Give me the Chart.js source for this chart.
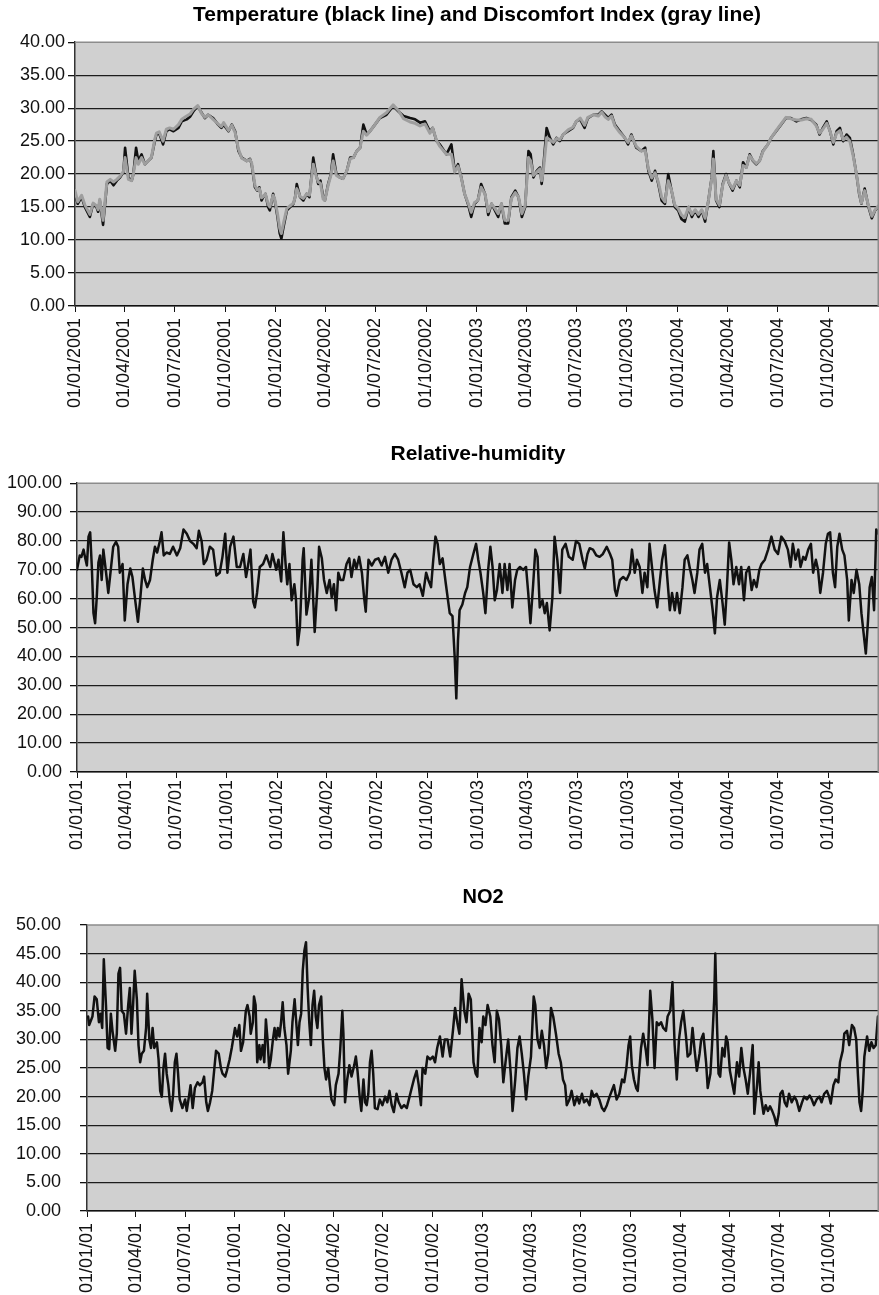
<!DOCTYPE html>
<html>
<head>
<meta charset="utf-8">
<script src="https://cdn.jsdelivr.net/npm/chart.js@4.4.1/dist/chart.umd.min.js"></script>
<style>
  body { margin: 0; background: #fff; }
  canvas { position: absolute; left: 0; }
  #temp-chart { top: 0; }
  #rh-chart { top: 420px; }
  #no2-chart { top: 865px; }
</style>
</head>
<body>
<canvas id="temp-chart" width="879" height="420"></canvas>
<canvas id="rh-chart" width="879" height="445"></canvas>
<canvas id="no2-chart" width="879" height="430"></canvas>
<script>
// x axis: days counted from 01/01/2001
const quarterDays = [0, 90, 181, 273, 365, 455, 546, 638, 730, 820, 911, 1003, 1095, 1186, 1277, 1369];
const labelsLong = ["01/01/2001", "01/04/2001", "01/07/2001", "01/10/2001", "01/01/2002", "01/04/2002", "01/07/2002", "01/10/2002",
  "01/01/2003", "01/04/2003", "01/07/2003", "01/10/2003", "01/01/2004", "01/04/2004", "01/07/2004", "01/10/2004"];
const labelsShort = ["01/01/01", "01/04/01", "01/07/01", "01/10/01", "01/01/02", "01/04/02", "01/07/02", "01/10/02",
  "01/01/03", "01/04/03", "01/07/03", "01/10/03", "01/01/04", "01/04/04", "01/07/04", "01/10/04"];

// temperature + discomfort index
const tempDays = [
  0, 5, 12, 18, 27, 33, 39, 42, 45, 51,
  58, 64, 70, 76, 82, 88, 91, 97, 103, 106,
  111, 115, 121, 127, 133, 139, 145, 148, 153, 160,
  166, 172, 179, 188, 194, 203, 209, 215, 223, 230,
  236, 242, 251, 260, 266, 270, 279, 285, 291, 297,
  303, 312, 318, 321, 327, 331, 335, 339, 342, 346,
  351, 354, 360, 363, 368, 372, 375, 379, 385, 391,
  397, 400, 403, 409, 415, 421, 426, 433, 438, 442,
  446, 451, 454, 460, 465, 469, 475, 481, 487, 494,
  500, 506, 512, 518, 524, 530, 536, 545, 554, 566,
  578, 588, 597, 609, 618, 627, 636, 645, 650, 657,
  663, 675, 684, 690, 696, 702, 708, 714, 720, 726,
  732, 738, 745, 751, 757, 763, 769, 775, 781, 787,
  793, 800, 806, 812, 818, 824, 828, 833, 839, 845,
  848, 851, 857, 863, 869, 875, 881, 887, 896, 905,
  911, 918, 926, 932, 942, 951, 957, 963, 969, 975,
  981, 990, 999, 1005, 1011, 1020, 1029, 1036, 1042, 1048,
  1054, 1060, 1066, 1072, 1078, 1084, 1090, 1096, 1102, 1108,
  1115, 1121, 1127, 1133, 1139, 1145, 1151, 1157, 1160, 1165,
  1171, 1177, 1183, 1189, 1195, 1202, 1208, 1214, 1220, 1226,
  1232, 1238, 1244, 1250, 1259, 1265, 1274, 1283, 1292, 1301,
  1311, 1320, 1329, 1338, 1347, 1353, 1359, 1366, 1372, 1378,
  1384, 1390, 1396, 1402, 1408, 1414, 1420, 1425, 1429, 1435,
  1442, 1448, 1454, 1460];
const temperature = [
  17, 15.5, 16.5, 15, 13.5, 15.5, 15, 14.3, 16, 12.3,
  18.5, 19, 18.3, 19, 19.5, 20.3, 24, 19.5, 19, 20,
  24, 22, 23, 21.5, 22, 22.5, 25, 26, 26.2, 24.5,
  26.5, 26.8, 26.5, 27, 28, 28.3, 28.7, 29.5, 30.3, 29.3,
  28.5, 29, 28.5, 27.5, 27, 27.5, 26.5, 27.5, 26.5, 23.5,
  22.5, 22, 22.3, 21.5, 18, 17.5, 18, 16, 16.5, 17,
  15, 14.5, 17, 16, 13.5, 11, 10.2, 12, 14.5, 15,
  15.5, 16.5, 18.5, 16.5, 16, 17, 16.5, 22.5, 20, 18.5,
  19, 16.5, 16, 18.5, 20, 23, 20, 19.5, 19.3, 20.5,
  22.5, 22.5, 23.5, 24, 27.5, 26, 26.5, 27.5, 28.5, 29,
  30.3, 29.5, 28.8, 28.5, 28.3, 27.8, 28, 26.5, 27, 25,
  24.5, 23, 24.5, 20.5, 21.5, 19.5, 17, 15.5, 13.5, 15.5,
  16, 18.5, 17, 13.8, 15.5, 14.5, 13.5, 15.5, 12.5, 12.5,
  16.5, 17.5, 16.5, 13.5, 15, 23.5, 23, 19.5, 20.5, 21,
  18.5, 21, 27, 25.5, 24.5, 25.5, 25, 26, 26.5, 27,
  28, 28.3, 27, 28.5, 29, 29, 29.5, 29, 28.5, 29,
  27.5, 26.5, 25.5, 24.5, 26, 24, 23.5, 24, 20.5, 19,
  20.5, 18.5, 16, 15.5, 20, 17.5, 15, 14.5, 13.2, 12.8,
  15, 13.5, 14.5, 13.5, 14.5, 12.8, 16, 19.5, 23.5, 16,
  15, 18.5, 20, 18.5, 17.5, 19, 18, 21.8, 21, 23,
  22, 21.5, 22, 23.5, 24.5, 25.5, 26.5, 27.5, 28.5, 28.5,
  28, 28.3, 28.5, 28.2, 27.5, 26, 27, 28, 26.5, 24.5,
  26.5, 27, 25, 26, 25.5, 23, 20, 17, 15.5, 17.8,
  15, 13.3, 14.5, 15];
const discomfort = [
  17.5, 15.8, 16.8, 15.3, 13.9, 15.6, 15.2, 14.6, 16.2, 13,
  18.8, 19.2, 18.8, 19.2, 19.7, 20.4, 22.5, 19.2, 19, 20,
  22.5, 21.5, 22.5, 21.5, 22, 22.6, 25.3, 26.2, 26.4, 25,
  26.8, 27, 26.8, 27.5, 28.3, 28.8, 29.1, 29.8, 30.4, 29.2,
  28.6, 29, 28.3, 27.6, 27.2, 27.8, 26.6, 27.4, 26.3, 23.8,
  22.4, 22, 22.2, 21.7, 18.3, 17.6, 17.8, 16.4, 16.6, 17,
  15.4, 15, 16.8, 16.2, 14, 11.8, 11, 12.6, 14.8, 15.2,
  15.6, 16.5, 17.8, 16.6, 16.3, 17, 16.8, 21.5, 19.8, 18.8,
  18.6, 16.2, 16, 18.3, 19.8, 22, 19.8, 19.5, 19.3, 20.5,
  22.3, 22.5, 23.5, 24, 26.5, 25.9, 26.5, 27.5, 28.6, 29.3,
  30.5, 29.6, 28.4, 27.9, 27.7, 27.3, 27.6, 26.2, 27, 25.1,
  24.2, 23, 23, 20.3, 21.2, 19.4, 17, 15.7, 14.2, 15.7,
  16, 18, 17, 14.3, 15.5, 14.8, 14, 15.5, 13, 13,
  16.3, 17.2, 16.5, 14, 15.2, 22.5, 22, 19.8, 20.3, 20.8,
  19, 20.5, 25.5, 25.2, 24.8, 25.4, 25.2, 26, 26.7, 27.1,
  28, 28.5, 27.4, 28.6, 29, 28.8, 29.4, 28.7, 28.3, 28.8,
  27.3, 26.3, 25.5, 24.8, 25.8, 24.2, 23.5, 23.6, 20.8, 19.4,
  20.2, 18.8, 16.5, 15.8, 19, 17.5, 15.3, 14.8, 13.8, 13.4,
  15, 13.9, 14.6, 13.9, 14.6, 13.3, 16, 19.3, 22.3, 16.2,
  15.3, 18.3, 19.8, 18.6, 17.8, 19, 18.3, 21.3, 21, 22.8,
  22.1, 21.6, 22, 23.4, 24.5, 25.5, 26.6, 27.6, 28.6, 28.4,
  28.2, 28.2, 28.4, 28.3, 27.3, 26.2, 26.8, 27.7, 26.5, 24.8,
  26.2, 26.6, 25.2, 25.6, 25, 22.8, 20, 17.2, 15.6, 17.5,
  15.2, 13.6, 14.6, 15.2];

// relative humidity
const rhDays = [
  0, 5, 8, 12, 15, 18, 21, 24, 27, 30,
  33, 36, 39, 42, 45, 48, 53, 57, 61, 66,
  71, 75, 78, 83, 87, 92, 97, 101, 106, 111,
  115, 120, 124, 128, 133, 138, 142, 146, 151, 154,
  158, 163, 169, 175, 182, 188, 194, 200, 206, 212,
  218, 222, 227, 231, 236, 242, 248, 254, 260, 265,
  270, 274, 279, 285, 291, 297, 303, 308, 312, 316,
  321, 324, 328, 333, 339, 345, 352, 356, 363, 367,
  372, 376, 380, 383, 387, 391, 396, 399, 402, 406,
  411, 413, 418, 423, 427, 433, 438, 441, 446, 450,
  455, 460, 464, 468, 472, 476, 480, 485, 491, 496,
  500, 505, 509, 514, 519, 523, 526, 531, 537, 543,
  549, 555, 561, 567, 573, 579, 585, 591, 597, 602,
  607, 613, 619, 624, 630, 636, 640, 645, 649, 653,
  657, 661, 666, 672, 679, 684, 688, 691, 694, 697,
  702, 707, 711, 716, 722, 727, 731, 735, 740, 744,
  749, 753, 757, 761, 765, 770, 775, 779, 784, 788,
  793, 798, 802, 807, 813, 818, 822, 826, 831, 835,
  839, 843, 848, 852, 856, 861, 866, 870, 875, 880,
  884, 890, 896, 903, 909, 915, 921, 925, 930, 934,
  940, 946, 952, 958, 965, 971, 975, 980, 983, 989,
  995, 1001, 1007, 1011, 1016, 1020, 1025, 1030, 1034, 1039,
  1043, 1048, 1052, 1057, 1062, 1066, 1071, 1075, 1080, 1084,
  1089, 1093, 1098, 1103, 1107, 1112, 1116, 1121, 1125, 1130,
  1134, 1139, 1144, 1148, 1153, 1158, 1162, 1166, 1171, 1176,
  1180, 1184, 1188, 1192, 1196, 1201, 1206, 1210, 1215, 1219,
  1224, 1229, 1233, 1238, 1243, 1247, 1253, 1259, 1265, 1271,
  1277, 1283, 1289, 1295, 1300, 1304, 1309, 1314, 1318, 1323,
  1327, 1332, 1337, 1341, 1346, 1350, 1354, 1359, 1364, 1368,
  1372, 1377, 1381, 1385, 1389, 1394, 1398, 1403, 1406, 1411,
  1415, 1420, 1425, 1429, 1433, 1437, 1441, 1444, 1448, 1452,
  1456, 1460];
const humidity = [
  70, 75, 74.5, 77, 74, 71.5, 81.5, 83, 71, 55,
  51.5, 60.5, 72.5, 75, 66.5, 77, 69, 62, 69, 78,
  79.7, 78, 69, 72, 52.5, 65, 70.5, 67.5, 59.5, 52,
  59.5, 70.5, 66.5, 64, 66.5, 73.5, 78, 76, 80, 83,
  75, 76, 75.5, 78, 75, 77.5, 84, 82.5, 80, 79,
  77.5, 83.5, 80, 72, 73.5, 78, 77, 68, 69, 74.5,
  82.5, 69, 78, 81.5, 71, 71, 75.5, 67.5, 72, 77,
  59, 57, 62, 71, 72, 75, 71, 75.5, 70, 73.5,
  66, 83, 72, 65, 72, 59.5, 65, 59.5, 44, 50,
  73.5, 77.5, 54.5, 60.5, 73.5, 48.5, 64, 78, 74, 66.5,
  62, 66.5, 60.5, 65, 56, 69, 66.5, 66.5, 72, 74,
  67.5, 73.5, 70.5, 74.5, 69, 60.5, 55.5, 73.5, 71.5, 73.5,
  74, 71.5, 74.5, 69, 73.5, 75.5, 73.5, 69, 64, 69,
  70, 65, 64, 65, 61, 69, 66.5, 64, 73.5, 81.5,
  79, 72, 74, 65, 55, 54, 40, 25.5, 45.5, 56,
  58, 62, 64, 71, 75.5, 79, 73.5, 69, 62, 55,
  70, 78, 71, 59.5, 63, 72, 62, 72, 63, 72,
  57, 66.5, 70, 71, 70, 71, 62, 51.5, 65, 77,
  74.5, 57, 59.5, 55, 58.5, 49, 60.5, 81.5, 73.5, 62,
  77, 79, 74.5, 73.5, 80, 79, 73.5, 70.5, 75.5, 77.5,
  77, 75, 74.5, 75.5, 78, 75.5, 73.5, 63, 61, 66.5,
  67.5, 66.5, 69, 77, 69, 73.5, 71, 62, 69, 64,
  79, 70, 63, 57, 66.5, 73.5, 78.5, 68, 56, 62,
  56, 62, 55, 64, 73.5, 75, 71, 66.5, 62, 69,
  77, 79, 69, 72, 64, 56, 48, 60.5, 66.5, 58.5,
  51, 64, 79.5, 73.5, 65, 71, 65, 71, 59.5, 69,
  71, 63, 66.5, 64, 70, 72, 73.5, 77, 81.5, 77,
  75.5, 81.5, 80, 77, 71, 79, 73.5, 77, 71, 74.5,
  73.5, 77, 79, 69, 73.5, 70, 62, 69, 79, 82.5,
  83, 69, 64, 78, 82.5, 77, 75, 66.5, 52.5, 66.5,
  62, 70, 65, 55, 48, 41, 52.5, 64, 67.5, 56,
  84, 82.5];

// NO2
const no2Days = [
  2, 4, 10, 14, 18, 22, 25, 28, 31, 35,
  38, 41, 44, 47, 52, 55, 58, 61, 64, 68,
  72, 76, 79, 82, 85, 88, 92, 95, 98, 101,
  105, 109, 111, 115, 118, 121, 124, 129, 132, 135,
  138, 141, 144, 147, 150, 153, 156, 159, 162, 165,
  168, 171, 176, 181, 184, 188, 191, 195, 199, 204,
  208, 213, 216, 220, 223, 227, 231, 235, 238, 243,
  247, 250, 255, 258, 263, 267, 273, 277, 281, 284,
  288, 293, 296, 300, 302, 306, 308, 311, 314, 318,
  320, 324, 327, 330, 333, 336, 339, 343, 346, 349,
  352, 355, 358, 361, 364, 368, 371, 376, 379, 383,
  386, 389, 392, 395, 398, 401, 404, 407, 410, 413,
  416, 419, 422, 425, 428, 432, 435, 438, 441, 445,
  448, 451, 456, 459, 464, 467, 471, 473, 476, 480,
  484, 488, 493, 496, 499, 503, 506, 510, 513, 516,
  519, 522, 525, 528, 531, 536, 540, 545, 550, 554,
  558, 562, 566, 571, 575, 580, 585, 590, 595, 599,
  603, 608, 612, 616, 619, 624, 628, 633, 638, 642,
  646, 651, 656, 660, 665, 670, 675, 679, 683, 687,
  691, 696, 700, 704, 708, 713, 717, 720, 724, 728,
  731, 735, 739, 744, 748, 752, 756, 760, 764, 768,
  772, 777, 782, 785, 790, 794, 798, 802, 806, 810,
  814, 819, 824, 827, 831, 835, 839, 843, 847, 851,
  856, 860, 865, 870, 874, 878, 882, 885, 890, 894,
  899, 904, 908, 913, 917, 922, 927, 931, 935, 940,
  945, 950, 954, 959, 964, 968, 972, 977, 982, 987,
  991, 995, 999, 1002, 1005, 1009, 1013, 1016, 1022, 1026,
  1031, 1034, 1039, 1043, 1047, 1051, 1055, 1059, 1063, 1068,
  1071, 1076, 1080, 1084, 1088, 1092, 1096, 1100, 1105, 1108,
  1113, 1117, 1121, 1125, 1130, 1133, 1137, 1142, 1145, 1150,
  1153, 1157, 1159, 1162, 1165, 1168, 1172, 1176, 1179, 1182,
  1186, 1191, 1194, 1199, 1203, 1207, 1211, 1215, 1219, 1223,
  1228, 1231, 1236, 1239, 1242, 1245, 1248, 1252, 1256, 1260,
  1264, 1268, 1272, 1276, 1279, 1283, 1287, 1291, 1295, 1300,
  1305, 1309, 1314, 1319, 1323, 1328, 1333, 1337, 1341, 1346,
  1351, 1355, 1360, 1365, 1369, 1372, 1377, 1381, 1386, 1389,
  1394, 1397, 1402, 1406, 1411, 1415, 1419, 1422, 1425, 1428,
  1431, 1434, 1439, 1443, 1447, 1451, 1455, 1459];
const no2 = [
  34, 32.5, 34, 37.5, 37, 33, 34.5, 32, 44, 36,
  28.5, 28.3, 34.5, 31.5, 28, 31, 41.5, 42.5, 35, 34.5,
  31, 36, 39, 31, 36, 42, 37, 29, 26, 27.5,
  28, 32, 38, 30, 28.5, 32, 28.5, 29.5, 26.5, 21,
  20, 25, 27.5, 24, 22, 19, 17.5, 20.5, 26, 27.5,
  24, 19.5, 18, 19.5, 17.5, 20, 22, 18, 21.5, 22.5,
  22, 22.5, 23.5, 19, 17.5, 19, 21, 25, 28, 27.5,
  25, 24, 23.5, 24.5, 26.5, 28.5, 32, 30.5, 32.5, 28,
  29.5, 35, 36, 34, 31, 33, 37.5, 36, 26, 29,
  26.5, 29, 26, 33.5, 30, 25, 26.5, 30, 32, 30,
  32, 30.5, 33, 36.5, 32, 29, 24, 28, 33, 37,
  33, 29, 33, 34.5, 42, 45.5, 47, 39, 33, 29,
  36, 38.5, 34, 32, 36, 37.5, 30, 25, 23, 25,
  22, 19.5, 18.5, 22, 24, 28, 35, 31, 19, 23,
  25.5, 23.5, 25.5, 27, 24.5, 20, 17.5, 23, 19, 18.5,
  20.5, 26, 28, 24, 18, 17.8, 19.5, 18.5, 20, 19,
  21, 18.5, 17.3, 20.5, 19, 18, 18.5, 18, 20, 21.5,
  23, 24.5, 22, 18.5, 25, 24, 27, 26.5, 27, 26,
  28.5, 30.5, 27, 30, 30, 27, 31.5, 35.5, 33, 31,
  40.5, 35, 33, 38, 37, 26, 24, 23.5, 32, 29.5,
  34, 32.5, 36, 34, 29, 26, 35, 33.5, 29, 22.5,
  26, 30, 23.5, 17.5, 23, 28.5, 30.5, 27.5, 24, 19.5,
  23.5, 27, 37.5, 36, 30, 28.5, 31.5, 29, 25, 27.5,
  35.5, 34, 31, 27.5, 26, 23, 22, 18.5, 19.5, 21,
  18.5, 20, 18.8, 20.5, 19, 19.5, 18.5, 21, 20, 20.5,
  19.5, 18, 17.5, 18.5, 20, 21, 22, 19.5, 20.5, 23,
  22.5, 25, 29, 30.5, 25.5, 23, 21.5, 21, 28.5, 31,
  28, 25.5, 38.5, 33.5, 25, 33, 32.5, 33, 32, 31.5,
  34, 35, 40, 29, 23, 30, 33, 35, 30.5, 27,
  27.5, 32, 28, 24.5, 27.5, 30, 31, 26, 21.5, 24,
  29, 37, 45, 33, 24, 23.5, 28.5, 27, 30.5, 29.5,
  24.5, 22, 20.5, 26, 23.5, 28.5, 25, 23, 20.5, 24,
  29, 17, 22, 26, 21, 19, 17, 18.5, 17.5, 18.3,
  17.5, 16.5, 15, 17, 20.5, 21, 19, 18.3, 20.5, 19,
  20, 19.3, 17.5, 19, 20, 19.5, 20.2, 19.5, 18.5, 19.5,
  20, 19, 20.5, 21, 20, 18.8, 22, 23, 22.5, 26,
  28, 31, 31.5, 29, 32.5, 32, 30, 24, 19, 17.5,
  21, 27, 30.5, 28, 29.5, 28.5, 29, 34];

const FONT = "'Liberation Sans', Arial, Helvetica, sans-serif";

// gray plot area with a gray top/right frame
const plotFrame = {
  id: "plotFrame",
  beforeDraw(chart) {
    const a = chart.chartArea;
    const ctx = chart.ctx;
    ctx.save();
    ctx.fillStyle = "#d0d0d0";
    ctx.fillRect(a.left, a.top, a.right - a.left, a.bottom - a.top);
    ctx.restore();
  },
  afterDraw(chart) {
    const a = chart.chartArea;
    const ctx = chart.ctx;
    ctx.save();
    ctx.strokeStyle = "#8c8c8c";
    ctx.lineWidth = 1.5;
    ctx.beginPath();
    ctx.moveTo(a.left, a.top);
    ctx.lineTo(a.right - 0.75, a.top);
    ctx.lineTo(a.right - 0.75, a.bottom);
    ctx.stroke();
    ctx.restore();
  },
};

function pairs(days, values) {
  return days.map((d, i) => ({ x: d, y: values[i] }));
}

function makeChart(id, opt) {
  const ctx = document.getElementById(id).getContext("2d");
  return new Chart(ctx, {
    type: "line",
    data: { datasets: opt.datasets },
    options: {
      responsive: false,
      animation: false,
      layout: { padding: 0 },
      elements: {
        point: { radius: 0 },
        line: { tension: 0, borderJoinStyle: "round", borderCapStyle: "round" },
      },
      plugins: {
        legend: { display: false },
        tooltip: { enabled: false },
        title: {
          display: true,
          text: opt.title,
          fullSize: false,
          color: "#000",
          font: { family: FONT, size: opt.titleSize, weight: "bold" },
          padding: opt.titlePad,
        },
      },
      scales: {
        x: {
          type: "linear",
          min: 0,
          max: 1461,
          afterBuildTicks: (axis) => {
            axis.ticks = quarterDays.map((v) => ({ value: v }));
          },
          afterFit: (axis) => {
            axis.height = opt.xHeight;
          },
          ticks: {
            autoSkip: false,
            minRotation: 90,
            maxRotation: 90,
            padding: opt.xPad,
            color: "#111",
            font: { family: FONT, size: 18 },
            callback: (v, i) => opt.labels[i],
          },
          grid: { drawOnChartArea: false, drawTicks: true, tickLength: 6, tickColor: "#111" },
          border: { color: "#111", width: 1.5 },
        },
        y: {
          min: 0,
          max: opt.yMax,
          afterBuildTicks: (axis) => {
            axis.ticks = [];
            for (let v = 0; v <= opt.yMax; v += opt.yStep) axis.ticks.push({ value: v });
          },
          afterFit: (axis) => {
            axis.width = opt.yWidth;
          },
          ticks: {
            padding: opt.yPad,
            color: "#111",
            font: { family: FONT, size: 18 },
            callback: (v) => v.toFixed(2),
          },
          grid: {
            color: (c) => (c.tick && c.tick.value === opt.yMax ? "rgba(0,0,0,0)" : "#1c1c1c"),
            lineWidth: 1.3,
            tickLength: 7,
            tickColor: "#111",
          },
          border: { color: "#333", width: 1.5 },
        },
      },
    },
    plugins: [plotFrame],
  });
}

// Temperature (black) and Discomfort Index (gray), gray drawn on top
makeChart("temp-chart", {
  title: "Temperature (black line) and Discomfort Index (gray line)",
  titleSize: 21,
  titlePad: { top: 3, bottom: 14 },
  labels: labelsLong,
  xHeight: 114,
  xPad: 6,
  yMax: 40,
  yStep: 5,
  yWidth: 75,
  yPad: 3,
  datasets: [
    { label: "Discomfort Index", data: pairs(tempDays, discomfort), borderColor: "#9e9e9e", borderWidth: 3, order: 0 },
    { label: "Temperature", data: pairs(tempDays, temperature), borderColor: "#111", borderWidth: 2.6, order: 1 },
  ],
});

// Relative humidity
makeChart("rh-chart", {
  title: "Relative-humidity",
  titleSize: 21,
  titlePad: { top: 22, bottom: 16 },
  labels: labelsShort,
  xHeight: 93,
  xPad: 2,
  yMax: 100,
  yStep: 10,
  yWidth: 77,
  yPad: 8,
  datasets: [
    { label: "Relative-humidity", data: pairs(rhDays, humidity), borderColor: "#111", borderWidth: 2.5 },
  ],
});

// NO2
makeChart("no2-chart", {
  title: "NO2",
  titleSize: 20,
  titlePad: { top: 20, bottom: 16 },
  labels: labelsShort,
  xHeight: 84,
  xPad: 6,
  yMax: 50,
  yStep: 5,
  yWidth: 87,
  yPad: 19,
  datasets: [
    { label: "NO2", data: pairs(no2Days, no2), borderColor: "#111", borderWidth: 2.5 },
  ],
});
</script>
</body>
</html>
